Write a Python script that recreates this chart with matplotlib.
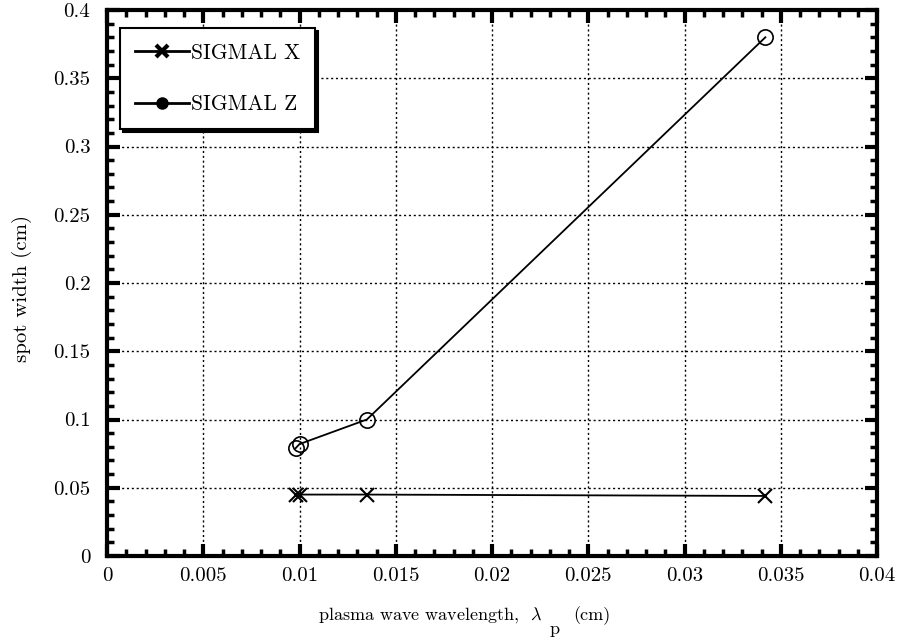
import matplotlib
matplotlib.use("Agg")
import matplotlib.pyplot as plt
from matplotlib.lines import Line2D
from matplotlib.ticker import MultipleLocator

plt.rcParams['font.family'] = ['cmr10', 'DejaVu Serif']
plt.rcParams['mathtext.fontset'] = 'cm'
plt.rcParams['axes.formatter.use_mathtext'] = True

# data
wavelength = [0.0098, 0.0100, 0.0135, 0.0342]
sigma_x = [0.045, 0.045, 0.045, 0.044]
sigma_z = [0.079, 0.082, 0.100, 0.380]
series_labels = ["SIGMAL X", "SIGMAL Z"]
x_ticks = [0, 0.005, 0.01, 0.015, 0.02, 0.025, 0.03, 0.035, 0.04]
x_ticklabels = ["0", "0.005", "0.01", "0.015", "0.02", "0.025", "0.03", "0.035", "0.04"]
y_ticks = [0, 0.05, 0.1, 0.15, 0.2, 0.25, 0.3, 0.35, 0.4]
y_ticklabels = ["0", "0.05", "0.1", "0.15", "0.2", "0.25", "0.3", "0.35", "0.4"]

W, H = 902, 641
fig = plt.figure(figsize=(W/100, H/100), dpi=100)
ax = fig.add_axes([107/W, 1-556/H, (877-107)/W, (556-10)/H])

ax.plot(wavelength, sigma_x, color='black', lw=1.3, marker='x', ms=10, mew=1.5)
ax.plot(wavelength, sigma_z, color='black', lw=1.3, marker='o', ms=11, mfc='none', mew=1.2)

ax.set_xlim(0, 0.04)
ax.set_ylim(0, 0.4)
ax.set_xticks(x_ticks)
ax.set_xticklabels(x_ticklabels)
ax.set_yticks(y_ticks)
ax.set_yticklabels(y_ticklabels)
ax.xaxis.set_minor_locator(MultipleLocator(0.001))
ax.yaxis.set_minor_locator(MultipleLocator(0.01))

ax.grid(True, which='major', color='black', linestyle=(0, (1.5, 2)), lw=1.0)
ax.tick_params(which='both', direction='in', top=True, right=True, colors='black', labelsize=15)
ax.tick_params(which='major', length=9, width=3)
ax.tick_params(axis='x', which='major', pad=8)
ax.tick_params(axis='y', which='major', pad=12)
ax.tick_params(which='minor', length=5, width=2.5)
for s in ax.spines.values():
    s.set_linewidth(3)

# x label, built in pieces so that the subscript p sits low and full size
base_y = 1 - 620/H
t1 = fig.text(318/W, base_y, r"plasma wave wavelength,  $\lambda$", fontsize=13,
              ha='left', va='baseline')
t2 = ax.annotate("p", xy=(1, 0), xycoords=t1, xytext=(5, -8), textcoords='offset points',
                 fontsize=13, ha='left', va='bottom', annotation_clip=False)
t3 = ax.annotate("(cm)", xy=(1, 0), xycoords=t1, xytext=(22, 0), textcoords='offset points',
                 fontsize=13, ha='left', va='bottom', annotation_clip=False)

ax.set_ylabel("spot width (cm)", fontsize=15)
ax.yaxis.set_label_coords(-0.0974, 0.49)

handles = [Line2D([], [], color='black', lw=2, marker='x', ms=8, mew=3),
           Line2D([], [], color='black', lw=2, marker='o', ms=8, mfc='black')]
leg = ax.legend(handles, series_labels, loc='upper left', bbox_to_anchor=(0.011, 0.975),
                frameon=True, fancybox=False, shadow={'color': 'black', 'alpha': 1},
                edgecolor='black', fontsize=15.5, handlelength=2.5, handletextpad=0.1,
                labelspacing=1.5, borderpad=0.7, borderaxespad=0.2, framealpha=1)
leg.get_frame().set_linewidth(1.5)

fig.savefig("out.png", dpi=100)
